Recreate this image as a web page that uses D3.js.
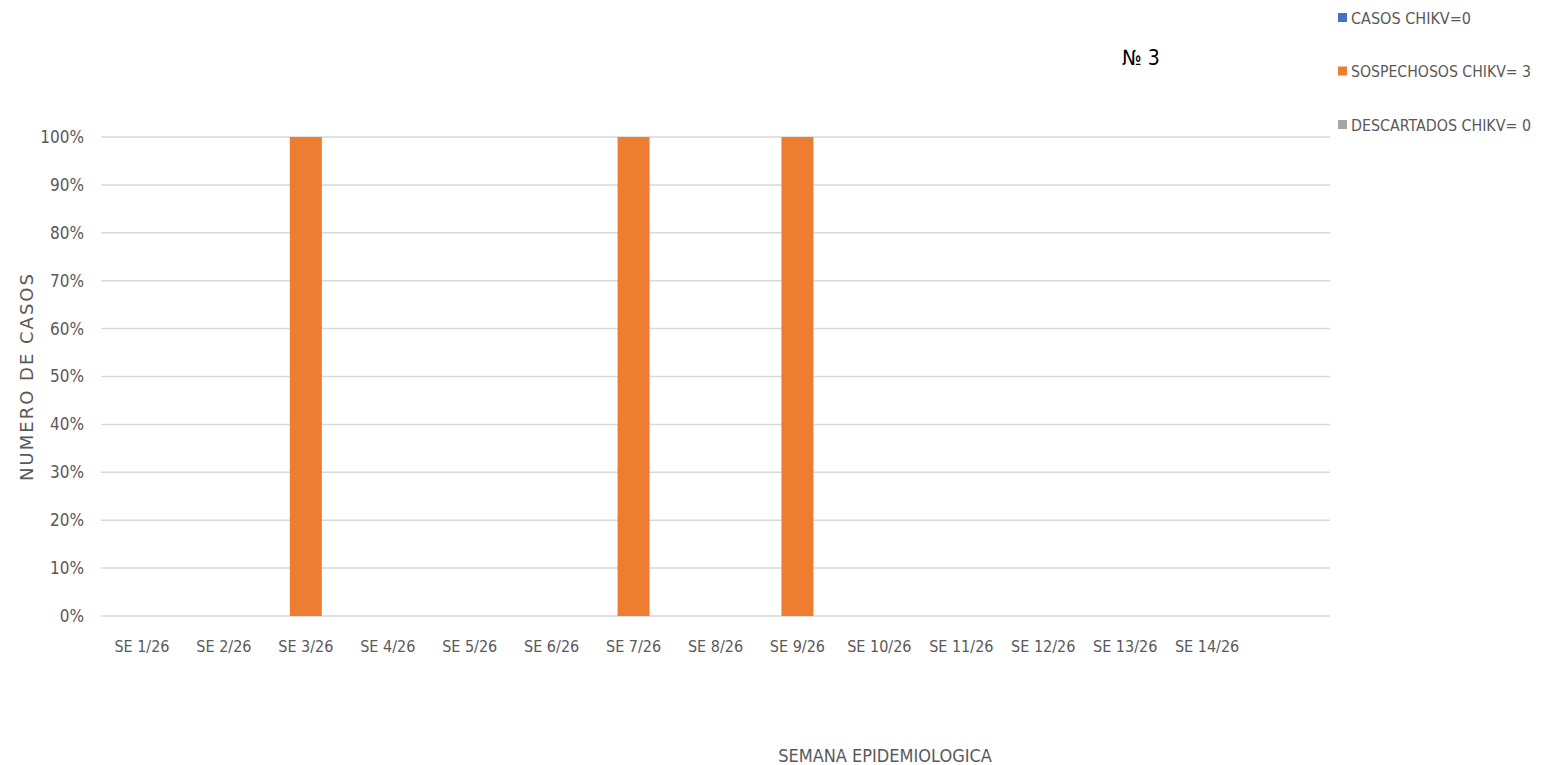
<!DOCTYPE html>
<html>
<head>
<meta charset="utf-8">
<script src="https://cdn.jsdelivr.net/npm/d3@7"></script>
<style>
    body { margin: 0; background: #fff; }
    svg text { font-family: "Liberation Sans Narrow", "DejaVu Sans Condensed", "Liberation Sans", sans-serif; }
</style>
</head>
<body>
<svg id="chart" width="1542" height="765"></svg>
<script>
/*********************************** data ***********************************/
let weeks = ["SE 1/26", "SE 2/26", "SE 3/26", "SE 4/26", "SE 5/26", "SE 6/26", "SE 7/26",
    "SE 8/26", "SE 9/26", "SE 10/26", "SE 11/26", "SE 12/26", "SE 13/26", "SE 14/26", ""]
let casos = [0, 0, 0, 0, 0, 0, 0, 0, 0, 0, 0, 0, 0, 0, 0]
let sospechosos = [0, 0, 1, 0, 0, 0, 1, 0, 1, 0, 0, 0, 0, 0, 0]
let descartados = [0, 0, 0, 0, 0, 0, 0, 0, 0, 0, 0, 0, 0, 0, 0]
let seriesNames = ["CASOS CHIKV=0", "SOSPECHOSOS CHIKV= 3", "DESCARTADOS CHIKV= 0"]
let seriesColors = ["#4472c4", "#ed7d31", "#a5a5a5"]
let yTicks = [0, 0.1, 0.2, 0.3, 0.4, 0.5, 0.6, 0.7, 0.8, 0.9, 1]

/*********************************** draw ***********************************/
const svg = d3.select("#chart")
const margin = { top: 137, right: 212, bottom: 149, left: 101 }
const width = 1542, height = 765

let xScale = d3.scaleBand()
    .domain(d3.range(weeks.length))
    .range([margin.left, width - margin.right])

let yScale = d3.scaleLinear()
    .domain([0, 1])
    .range([height - margin.bottom, margin.top])

// gridlines
svg.append("g")
    .selectAll("line")
    .data(yTicks)
    .enter()
    .append("line")
    .attr("x1", margin.left)
    .attr("x2", width - margin.right)
    .attr("y1", d => yScale(d))
    .attr("y2", d => yScale(d))
    .attr("stroke", "#d9d9d9")
    .attr("stroke-width", 1.5)

// y axis labels
svg.append("g")
    .selectAll("text")
    .data(yTicks)
    .enter()
    .append("text")
    .attr("x", 84)
    .attr("y", d => yScale(d))
    .attr("dy", "0.35em")
    .attr("text-anchor", "end")
    .attr("font-size", 17)
    .attr("fill", "#595959")
    .text(d3.format(".0%"))

// x axis labels
svg.append("g")
    .selectAll("text")
    .data(weeks)
    .enter()
    .append("text")
    .attr("x", (d, i) => xScale(i) + xScale.bandwidth() / 2)
    .attr("y", 652)
    .attr("text-anchor", "middle")
    .attr("font-size", 16)
    .attr("fill", "#595959")
    .text(d => d)

// stacked 100% bars
let rows = weeks.map((w, i) => {
    let total = casos[i] + sospechosos[i] + descartados[i]
    return {
        i: i,
        s0: total ? casos[i] / total : 0,
        s1: total ? sospechosos[i] / total : 0,
        s2: total ? descartados[i] / total : 0
    }
})
let stack = d3.stack().keys(["s0", "s1", "s2"])(rows)
let barW = 32

svg.append("g")
    .selectAll("g")
    .data(stack)
    .enter()
    .append("g")
    .attr("fill", (d, k) => seriesColors[k])
    .selectAll("rect")
    .data(d => d.filter(p => p[1] - p[0] > 0))
    .enter()
    .append("rect")
    .attr("x", d => xScale(d.data.i) + xScale.bandwidth() / 2 - barW / 2)
    .attr("width", barW)
    .attr("y", d => yScale(d[1]))
    .attr("height", d => yScale(d[0]) - yScale(d[1]))

// axis titles
svg.append("text")
    .attr("transform", "translate(33," + (yScale(0.5)) + ") rotate(-90)")
    .attr("text-anchor", "middle")
    .attr("font-size", 18)
    .attr("letter-spacing", 2)
    .style("font-family", "'DejaVu Sans', sans-serif")
    .attr("fill", "#595959")
    .text("NUMERO DE CASOS")

svg.append("text")
    .attr("x", 885)
    .attr("y", 762)
    .attr("text-anchor", "middle")
    .attr("font-size", 18)
    .attr("fill", "#595959")
    .text("SEMANA EPIDEMIOLOGICA")

// chart number
svg.append("text")
    .attr("x", 1122)
    .attr("y", 65)
    .attr("font-size", 21)
    .attr("fill", "#000")
    .text("№ 3")

// legend
let legendW = [120, 180, 180]
let legend = svg.append("g")
    .selectAll("g")
    .data(seriesNames)
    .enter()
    .append("g")
    .attr("transform", (d, i) => "translate(1338," + (18 + i * 53.5) + ")")
legend.append("rect")
    .attr("x", 0)
    .attr("y", -5)
    .attr("width", 9)
    .attr("height", 9)
    .attr("fill", (d, i) => seriesColors[i])
legend.append("text")
    .attr("x", 13)
    .attr("y", 0)
    .attr("dy", "0.35em")
    .attr("font-size", 16)
    .attr("textLength", (d, i) => legendW[i])
    .attr("lengthAdjust", "spacingAndGlyphs")
    .attr("fill", "#595959")
    .text(d => d)
</script>
</body>
</html>
